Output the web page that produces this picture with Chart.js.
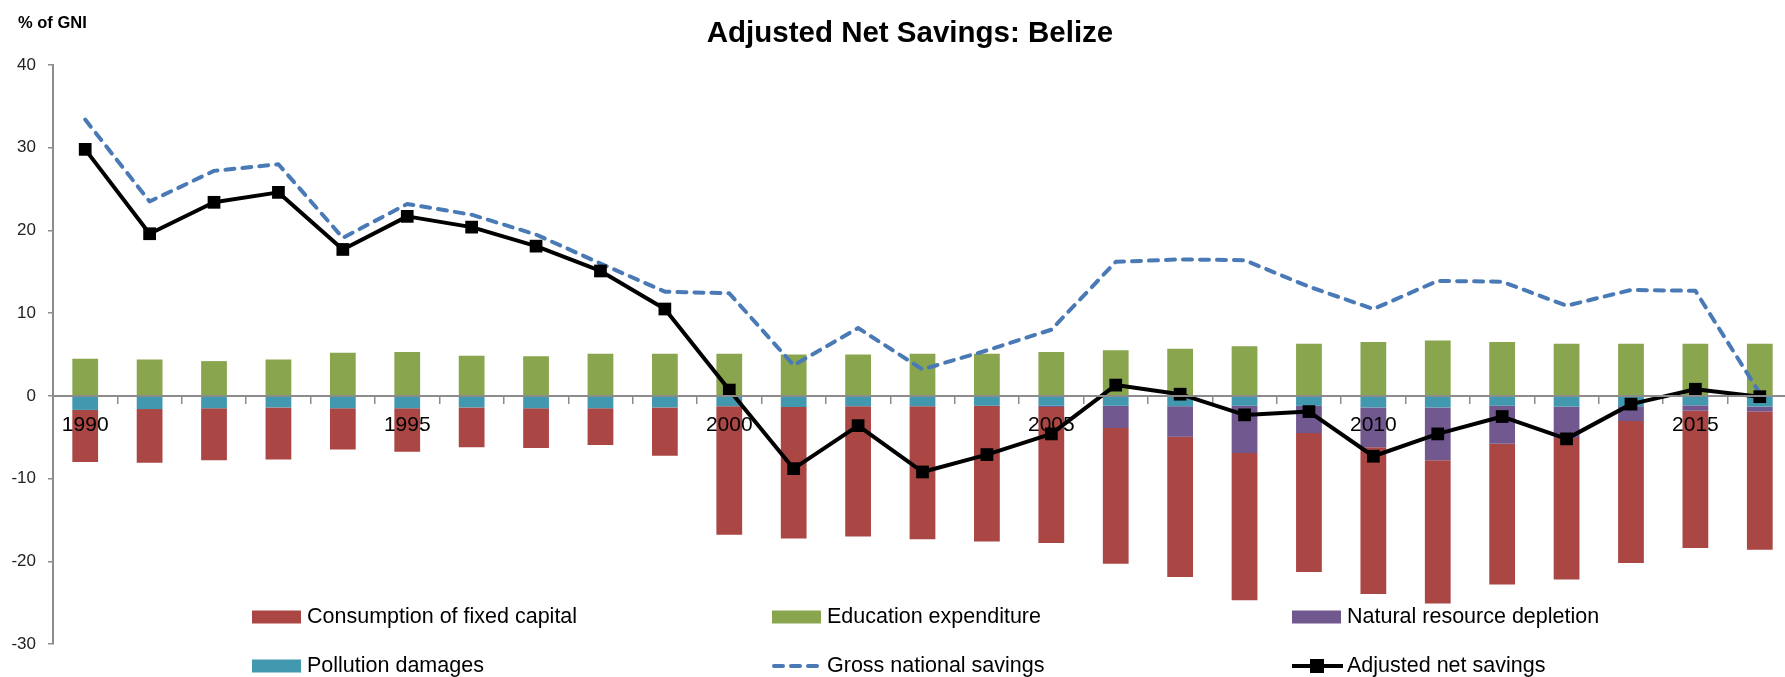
<!DOCTYPE html>
<html>
<head>
<meta charset="utf-8">
<title>Adjusted Net Savings: Belize</title>
<script src="https://cdn.jsdelivr.net/npm/chart.js@4.4.1/dist/chart.umd.min.js"></script>
<style>
    html, body { margin: 0; padding: 0; background: #fff; overflow: hidden; }
    #wrap { position: relative; width: 1801px; height: 677px; }
</style>
</head>
<body>
<div id="wrap"><canvas id="ansChart"></canvas></div>
<script>
/* Adjusted net savings chart */
const YEARS = ['1990', '1991', '1992', '1993', '1994', '1995', '1996', '1997', '1998', '1999',
    '2000', '2001', '2002', '2003', '2004', '2005', '2006', '2007', '2008', '2009',
    '2010', '2011', '2012', '2013', '2014', '2015', '2016'];

const EDUCATION = [4.5, 4.4, 4.2, 4.4, 5.2, 5.3, 4.85, 4.8, 5.1, 5.1,
    5.1, 5.0, 5.0, 5.1, 5.1, 5.3, 5.5, 5.7, 6.0, 6.3,
    6.5, 6.7, 6.5, 6.3, 6.3, 6.3, 6.3];
const POLLUTION = [-1.7, -1.6, -1.5, -1.4, -1.5, -1.5, -1.4, -1.5, -1.5, -1.4,
    -1.25, -1.35, -1.25, -1.25, -1.2, -1.2, -1.2, -1.25, -1.2, -1.2,
    -1.4, -1.4, -1.2, -1.3, -1.25, -1.15, -1.3];
const RESOURCE = [0, 0, 0, 0, 0, 0, 0, 0, 0, 0,
    0, 0, 0, 0, 0, -0.15, -2.7, -3.7, -5.7, -3.3,
    -4.8, -6.4, -4.6, -3.8, -1.8, -0.65, -0.6];
const FIXED_CAPITAL = [-6.3, -6.5, -6.3, -6.3, -5.0, -5.25, -4.8, -4.8, -4.45, -5.85,
    -15.55, -15.9, -15.75, -16.1, -16.4, -16.45, -16.4, -16.95, -17.8, -16.8,
    -17.75, -17.3, -17.0, -17.1, -17.15, -16.6, -16.7];
const GROSS_SAVINGS = [33.4, 23.5, 27.2, 28.0, 19.1, 23.2, 21.9, 19.5, 16.0, 12.6,
    12.4, 3.7, 8.2, 3.2, 5.5, 8.0, 16.2, 16.5, 16.4, 13.2,
    10.5, 13.9, 13.8, 10.9, 12.8, 12.7, 0.3];
const NET_SAVINGS = [29.8, 19.6, 23.4, 24.6, 17.7, 21.7, 20.4, 18.1, 15.1, 10.5,
    0.7, -8.8, -3.6, -9.2, -7.1, -4.6, 1.3, 0.2, -2.3, -1.9,
    -7.3, -4.6, -2.5, -5.2, -1.0, 0.8, -0.1];
const Y_TICKS = [-30, -20, -10, 0, 10, 20, 30, 40];

const COLORS = {
    fixed: '#AA4643',
    education: '#89A54E',
    resource: '#71588F',
    pollution: '#4198AF',
    gross: '#4A7AB5',
    net: '#000000',
    axis: '#8c8c8c',
};
const FONT = "'Liberation Sans', Arial, sans-serif";

// legend in the same order as the original (3 columns x 2 rows)
const LEGEND = [
    { label: 'Consumption of fixed capital', kind: 'box', color: COLORS.fixed },
    { label: 'Education expenditure', kind: 'box', color: COLORS.education },
    { label: 'Natural resource depletion', kind: 'box', color: COLORS.resource },
    { label: 'Pollution damages', kind: 'box', color: COLORS.pollution },
    { label: 'Gross national savings', kind: 'dash', color: COLORS.gross },
    { label: 'Adjusted net savings', kind: 'marker', color: COLORS.net },
];

const decorPlugin = {
    id: 'decor',
    afterDraw(chart) {
        const ctx = chart.ctx;
        ctx.save();
        ctx.fillStyle = '#000';
        ctx.textBaseline = 'middle';

        ctx.font = `bold 29.5px ${FONT}`;
        ctx.textAlign = 'center';
        ctx.fillText('Adjusted Net Savings: Belize', 910, 34);

        ctx.font = `bold 16.5px ${FONT}`;
        ctx.textAlign = 'left';
        ctx.fillText('% of GNI', 18, 23);

        const cols = [252, 772, 1292];
        const rows = [617, 666];
        ctx.font = `21.5px ${FONT}`;
        LEGEND.forEach((item, i) => {
            const x = cols[i % 3];
            const y = rows[Math.floor(i / 3)];
            if (item.kind === 'box') {
                ctx.fillStyle = item.color;
                ctx.fillRect(x, y - 6.5, 49, 13);
            } else if (item.kind === 'dash') {
                ctx.strokeStyle = item.color;
                ctx.lineWidth = 4;
                ctx.lineCap = 'round';
                ctx.setLineDash([9, 8]);
                ctx.beginPath();
                ctx.moveTo(x + 2, y);
                ctx.lineTo(x + 48, y);
                ctx.stroke();
                ctx.setLineDash([]);
            } else {
                ctx.strokeStyle = item.color;
                ctx.lineWidth = 4;
                ctx.lineCap = 'butt';
                ctx.beginPath();
                ctx.moveTo(x, y);
                ctx.lineTo(x + 51, y);
                ctx.stroke();
                ctx.fillStyle = item.color;
                ctx.fillRect(x + 25 - 7, y - 7, 14, 14);
            }
            ctx.fillStyle = '#000';
            ctx.fillText(item.label, x + 55, y);
        });
        ctx.restore();
    }
};

function barSet(label, data, color, order) {
    return {
        type: 'bar', label, data, order,
        backgroundColor: color,
        stack: 'bars',
        barPercentage: 0.4,
        categoryPercentage: 1.0,
    };
}

const ctx = document.getElementById('ansChart').getContext('2d');
new Chart(ctx, {
    data: {
        labels: YEARS,
        datasets: [
            {
                type: 'line', label: 'Adjusted net savings', data: NET_SAVINGS, order: 0,
                stack: 'net',
                borderColor: COLORS.net, backgroundColor: COLORS.net,
                borderWidth: 4, borderJoinStyle: 'round', tension: 0,
                pointStyle: 'rect', pointRadius: 9, pointBorderWidth: 0,
            },
            {
                type: 'line', label: 'Gross national savings', data: GROSS_SAVINGS, order: 1,
                stack: 'gross',
                borderColor: COLORS.gross, borderWidth: 4,
                borderDash: [9, 8], borderCapStyle: 'round', borderJoinStyle: 'round',
                tension: 0, pointRadius: 0,
            },
            barSet('Pollution damages', POLLUTION, COLORS.pollution, 2),
            barSet('Natural resource depletion', RESOURCE, COLORS.resource, 3),
            barSet('Consumption of fixed capital', FIXED_CAPITAL, COLORS.fixed, 4),
            barSet('Education expenditure', EDUCATION, COLORS.education, 5),
        ]
    },
    options: {
        responsive: true,
        maintainAspectRatio: false,
        animation: false,
        layout: { padding: { top: 65, bottom: 33, left: 0, right: 0 } },
        plugins: {
            legend: { display: false },
            title: { display: false },
            tooltip: { enabled: false },
        },
        scales: {
            x: {
                type: 'category',
                position: { y: 0 },
                offset: true,
                grid: {
                    offset: true, drawOnChartArea: false, drawTicks: true,
                    tickLength: 7, color: COLORS.axis, lineWidth: 1.5,
                },
                border: { display: true, color: COLORS.axis, width: 2, z: 1 },
                ticks: {
                    autoSkip: false, maxRotation: 0, padding: 10, z: 1,
                    color: '#000', font: { family: FONT, size: 21 },
                    callback: (v, i) => (Number(YEARS[i]) % 5 === 0 ? YEARS[i] : ''),
                },
            },
            y: {
                stacked: true,
                min: -30, max: 40,
                afterBuildTicks: scale => { scale.ticks = Y_TICKS.map(v => ({ value: v })); },
                afterFit: scale => { scale.width = 53; },
                grid: {
                    drawOnChartArea: false, drawTicks: true, tickLength: 5,
                    color: COLORS.axis, lineWidth: 1.5,
                },
                border: { display: true, color: COLORS.axis, width: 2 },
                ticks: {
                    padding: 12, color: '#222',
                    font: { family: FONT, size: 17 },
                },
            },
        },
    },
    plugins: [decorPlugin],
});
</script>
</body>
</html>
